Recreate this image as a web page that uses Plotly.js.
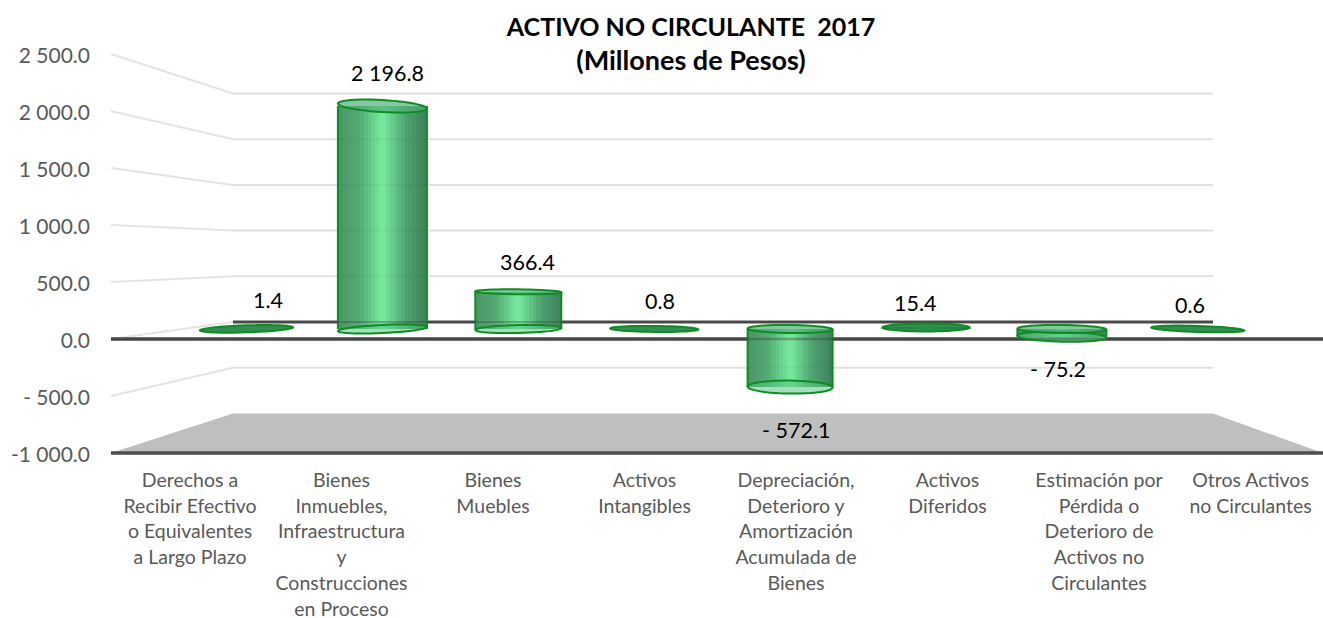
<!DOCTYPE html>
<html><head><meta charset="utf-8">
<script src="https://cdn.plot.ly/plotly-3.0.1.min.js"></script>
<style>html,body{margin:0;padding:0;background:#fff}#c{width:1323px;height:618px}</style></head>
<body><div id="c"></div>
<script>
// ---- data ----
const categories = ["Derechos a Recibir Efectivo","Bienes Inmuebles","Bienes Muebles","Activos Intangibles","Depreciación","Activos Diferidos","Estimación","Otros Activos"];
const categoryLines = [
 ["Derechos a","Recibir Efectivo","o Equivalentes","a Largo Plazo"],
 ["Bienes","Inmuebles,","Infraestructura","y","Construcciones","en Proceso"],
 ["Bienes","Muebles"],
 ["Activos","Intangibles"],
 ["Depreciación,","Deterioro y","Amortización","Acumulada de","Bienes"],
 ["Activos","Diferidos"],
 ["Estimación por","Pérdida o","Deterioro de","Activos no","Circulantes"],
 ["Otros Activos","no Circulantes"]];
const values = [1.4, 2196.8, 366.4, 0.8, -572.1, 15.4, -75.2, 0.6];
const gridValues = [2500,2000,1500,1000,500,0,-500,-1000];
const gridLabels = ["2 500.0","2 000.0","1 500.0","1 000.0","500.0","0.0","- 500.0","-1 000.0"];

// ---- layout / style ----
const W=1323,H=618,L=111,T=54,B=453;
const xp=p=>(p-L)/(W-L), yp=p=>(B-p)/(B-T);
const frontPx=v=>453-(v+1000)*0.114, backPx=v=>322-v*0.0914;
const BX0=233,BX1=1213;
const barX0=246.5,barDX=135.9,barY0=329,barK=0.1015;
const idx=values.map((_,i)=>i);
const capW=[93,89,86,88,85,87,89,93];
const topRy=[3.5,6,2.5,3,4,4,4,3], botRy=[3.5,4,4,3,6.5,4,5,3];
const topTilt=[-1.5,2.5,.5,.5,.5,0,.5,1.5], botTilt=[-1.5,-2,-1,.5,.5,0,1,1.5];
const labelDx=[21.5,5,9,6,6,-11,-4,-8], labelUp=[29,33,30,28,-43,24,-32,24];
const stops=[[0,[74,148,104]],[.25,[84,172,118]],[.5,[120,236,158]],[.75,[80,165,114]],[1,[60,128,90]]];
const mix=f=>{for(let s=1;s<stops.length;s++){if(f<=stops[s][0]){const a=stops[s-1],b=stops[s],t=(f-a[0])/(b[0]-a[0]);
  return 'rgb('+a[1].map((c,j)=>Math.round(c+(b[1][j]-c)*t)).join(',')+')';}}return 'rgb(60,128,90)';};
const fmt=v=>{const s=Math.abs(v).toFixed(1).replace(/\B(?=(\d{3})+(?!\d))/g,' ');return (v<0?'- ':'')+s;};
const GREEN='#0d8c22';

const shapes=[];
const line=(x0,y0,x1,y1,color,width,layer,opacity)=>shapes.push({type:'line',xref:'paper',yref:'paper',x0:xp(x0),y0:yp(y0),x1:xp(x1),y1:yp(y1),
  line:{color,width},layer:layer||'below',opacity:opacity==null?1:opacity});
// floor
shapes.push({type:'path',xref:'paper',yref:'paper',layer:'below',fillcolor:'#bfbfbf',line:{width:0},
 path:`M${xp(L)} ${yp(453)}L${xp(BX0)} ${yp(backPx(-1000))}L${xp(BX1)} ${yp(backPx(-1000))}L${xp(W)} ${yp(453)}Z`});
gridValues.forEach(v=>{
  if(v>-1000){line(L,frontPx(v),BX0,backPx(v),'#e4e4e4',2);}
  if(v>-1000&&v!==0){line(BX0,backPx(v),BX1,backPx(v),'#e8e8e8',2);line(BX0,backPx(v),BX1,backPx(v),'#000',1.5,'above',0.03);}
});
line(BX0,backPx(0),BX1,backPx(0),'#4d4d4d',3);
line(BX0,backPx(0),BX1,backPx(0),'#404040',2,'above',0.35);
line(L,frontPx(0),W,frontPx(0),'#4d4d4d',3.5);
line(L,frontPx(0),W,frontPx(0),'#404040',2.5,'above',0.4);
line(L,frontPx(-1000),W,frontPx(-1000),'#4d4d4d',3.5);

// cylinder caps, computed from the data through the bar axes' units
const ellipse=(i,v,ry,tilt,fill,layer)=>{
  const rx=capW[i]/2/barDX, pts=[];
  for(let a=0;a<48;a++){const t=a/48*2*Math.PI,c=Math.cos(t),s=Math.sin(t);
    pts.push((i+rx*c).toFixed(4)+','+(v+(ry*s-tilt*c)/barK).toFixed(2));}
  shapes.push({type:'path',xref:'x2',yref:'y2',layer:layer||'above',fillcolor:fill,line:{color:GREEN,width:2},
    path:'M'+pts.map(p=>p.replace(',',' ')).join('L')+'Z'});
};
values.forEach((v,i)=>{
  const hi=Math.max(v,0),lo=Math.min(v,0),big=Math.abs(v)>50;
  if(big){ // lower end
    const yB=v>0?0:lo;
    ellipse(i,yB,botRy[i],botTilt[i],'rgba(90,195,130,0.55)');
    ellipse(i,v>0?hi:0,topRy[i],topTilt[i],'rgba(80,175,120,0.7)');
  } else {
    ellipse(i,hi,topRy[i],topTilt[i],'rgba(30,130,65,0.9)');
  }
});

// ---- traces ----
const traces=[];
traces.push({type:'scatter',mode:'none',x:idx,y:values,xaxis:'x',yaxis:'y',hoverinfo:'skip',showlegend:false});
const N=24;
for(let k=0;k<N;k++){
  const f=k/N;
  traces.push({type:'bar',x:idx,y:values,base:0,xaxis:'x2',yaxis:'y2',showlegend:false,hoverinfo:'skip',
    width:capW.map(w=>w/barDX*(1-f)),offset:capW.map(w=>-w/barDX/2+w/barDX*f),
    marker:{color:mix((k+.5)/N),line:{width:0}}});
}
// cylinder side edges
const ex=[],ey=[];
values.forEach((v,i)=>{const h=capW[i]/2/barDX;ex.push(i-h,i-h,null,i+h,i+h,null);ey.push(0,v,null,0,v,null);});
traces.push({type:'scatter',mode:'lines',x:ex,y:ey,xaxis:'x2',yaxis:'y2',line:{color:GREEN,width:2},hoverinfo:'skip',showlegend:false,connectgaps:false});

const FONT='Lato, sans-serif';
const annotations=values.map((v,i)=>({xref:'x2',yref:'y2',x:i,y:v,text:fmt(v),showarrow:false,xanchor:'center',yanchor:'middle',
  xshift:labelDx[i],yshift:labelUp[i],font:{family:FONT,size:21.5,color:'#000'}}));

const tickText=categoryLines.map(ls=>ls.map(l=>`<span style="font-size:19.5px">${l}</span>`).join('<br>'));

const layout={
 width:W,height:H,margin:{l:L,r:0,t:T,b:H-B,pad:0},paper_bgcolor:'#fff',plot_bgcolor:'rgba(0,0,0,0)',showlegend:false,barmode:'overlay',bargap:0,
 title:{text:'<b><span style="font-size:25px">ACTIVO NO CIRCULANTE  2017</span></b><br><b><span style="font-size:27px">(Millones de Pesos)</span></b>',x:691/W,xanchor:'center',y:1-36/H,yanchor:'top',
   font:{family:FONT,size:26,color:'#000'}},
 xaxis:{type:'linear',range:[-(190-L)/151.5,(W-190)/151.5],tickmode:'array',tickvals:idx,ticktext:tickText,ticks:'',showgrid:false,zeroline:false,showline:false,
   tickangle:0,ticklabelstandoff:13,tickfont:{family:FONT,size:19.8,color:'#595959'},anchor:'y',automargin:false},
 yaxis:{range:[-1000,2500],tickmode:'array',tickvals:gridValues,ticktext:gridLabels,ticks:'',showgrid:false,zeroline:false,showline:false,
   ticklabelstandoff:20,ticklabelshift:2,tickfont:{family:FONT,size:21,color:'#595959'},automargin:false},
 xaxis2:{type:'linear',overlaying:'x',anchor:'y2',range:[(L-barX0)/barDX,(W-barX0)/barDX],visible:false},
 yaxis2:{overlaying:'y',anchor:'x2',range:[(barY0-B)/barK,(barY0-T)/barK],visible:false},
 shapes,annotations
};
Plotly.newPlot('c',traces,layout,{displayModeBar:false,staticPlot:true});
</script></body></html>
